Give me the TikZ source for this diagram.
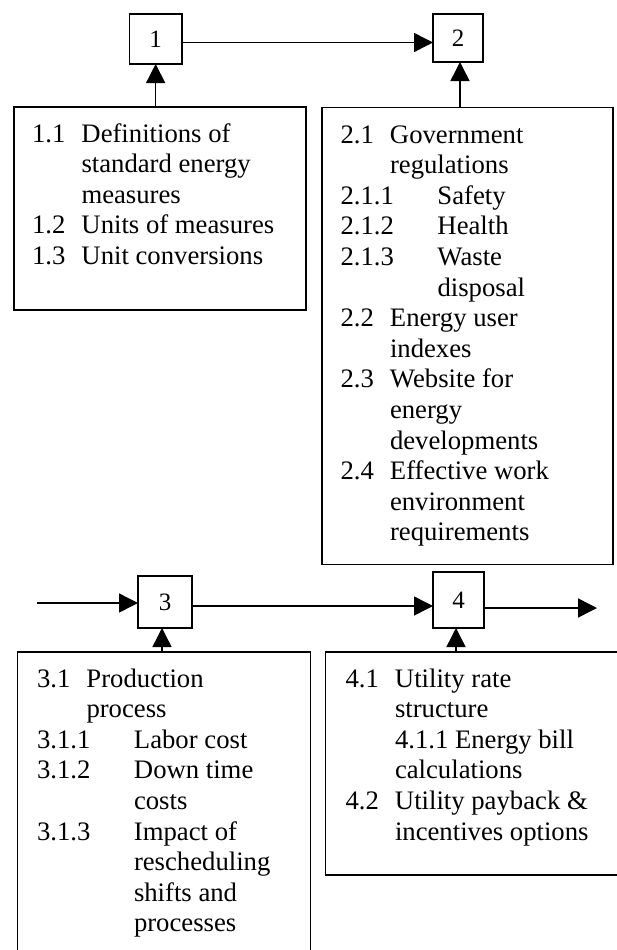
\documentclass[tikz,border=0pt]{standalone}
\usepackage{fontspec}
\setmainfont{Liberation Serif}
\usetikzlibrary{arrows.meta}
\newcommand\numcol[1]{\makebox[49.5pt][l]{#1}}
\newcommand\indcol{\hspace*{49.5pt}}
\newcommand\subnum[1]{\makebox[97pt][l]{#1}}
\newcommand\subind{\hspace*{97pt}}
\begin{document}
\begin{tikzpicture}[x=1pt,y=-1pt,
  lw/.style={line width=1.5pt},
  numbox/.style={draw, lw, inner sep=0pt, outer sep=0pt, font=\fontsize{25}{29}\selectfont},
  bigbox/.style={draw, lw, inner sep=0pt, outer sep=0pt, anchor=north west},
  txt/.style={inner sep=0pt, outer sep=0pt, anchor=base west, font=\fontsize{26.7}{30.6}\selectfont},
  arr/.style={lw, -{Triangle[length=19pt,width=19pt]}}]
\useasboundingbox (0,0) rectangle (616,950);

% numbered boxes
\node[numbox, minimum width=52.7pt, minimum height=50pt] (n1) at (155.65,39) {1};
\node[numbox, minimum width=50pt, minimum height=48pt] (n2) at (458,38) {2};
\node[numbox, minimum width=54pt, minimum height=52pt] (n3) at (165,602) {3};
\node[numbox, minimum width=51pt, minimum height=56pt] (n4) at (458.5,600) {4};

% big boxes
\node[bigbox, minimum width=292.25pt, minimum height=203pt] (b11) at (13.75,107) {};
\node[bigbox, minimum width=290.8pt, minimum height=457pt] (b21) at (322.2,107.5) {};
\node[bigbox, minimum width=293.1pt, minimum height=310pt] (b31) at (17.3,652) {};
\node[bigbox, minimum width=300pt, minimum height=223pt] (b41) at (325.3,652) {};

% texts
\node[txt] (t11) at (32,142) {\begin{tabular}[t]{@{}l@{}}
\numcol{1.1}Definitions of\\
\indcol standard energy\\
\indcol measures\\
\numcol{1.2}Units of measures\\
\numcol{1.3}Unit conversions
\end{tabular}};

\node[txt] (t21) at (340.5,143) {\begin{tabular}[t]{@{}l@{}}
\numcol{2.1}Government\\
\indcol regulations\\
\subnum{2.1.1}Safety\\
\subnum{2.1.2}Health\\
\subnum{2.1.3}Waste\\
\subind disposal\\
\numcol{2.2}Energy user\\
\indcol indexes\\
\numcol{2.3}Website for\\
\indcol energy\\
\indcol developments\\
\numcol{2.4}Effective work\\
\indcol environment\\
\indcol requirements
\end{tabular}};

\node[txt] (t31) at (37,687) {\begin{tabular}[t]{@{}l@{}}
\numcol{3.1}Production\\
\indcol process\\
\subnum{3.1.1}Labor cost\\
\subnum{3.1.2}Down time\\
\subind costs\\
\subnum{3.1.3}Impact of\\
\subind rescheduling\\
\subind shifts and\\
\subind processes
\end{tabular}};

\node[txt] (t41) at (345.5,687) {\begin{tabular}[t]{@{}l@{}}
\numcol{4.1}Utility rate\\
\indcol structure\\
\indcol 4.1.1 Energy bill\\
\indcol calculations\\
\numcol{4.2}Utility payback \&\\
\indcol incentives options
\end{tabular}};

% connectors
\coordinate (y1) at (0,42.5);
\draw[arr] (n1.east |- y1) -- (n2.west |- y1);
\draw[arr] (n1.south |- b11.north) -- (n1.south);
\draw[arr] ([xshift=2pt]n2.south |- b21.north) -- ([xshift=2pt]n2.south);

\coordinate (in3) at (37,603);
\draw[arr] (in3) -- (n3.west |- in3);
\coordinate (y34) at (0,606);
\draw[arr] (n3.east |- y34) -- (n4.west |- y34);
\coordinate (out4) at (597,608);
\draw[arr] (n4.east |- out4) -- (out4);
\draw[arr] ([xshift=-3pt]n3.south |- b31.north) -- ([xshift=-3pt]n3.south);
\draw[arr] ([xshift=-2.5pt]n4.south |- b41.north) -- ([xshift=-2.5pt]n4.south);
\end{tikzpicture}
\end{document}
